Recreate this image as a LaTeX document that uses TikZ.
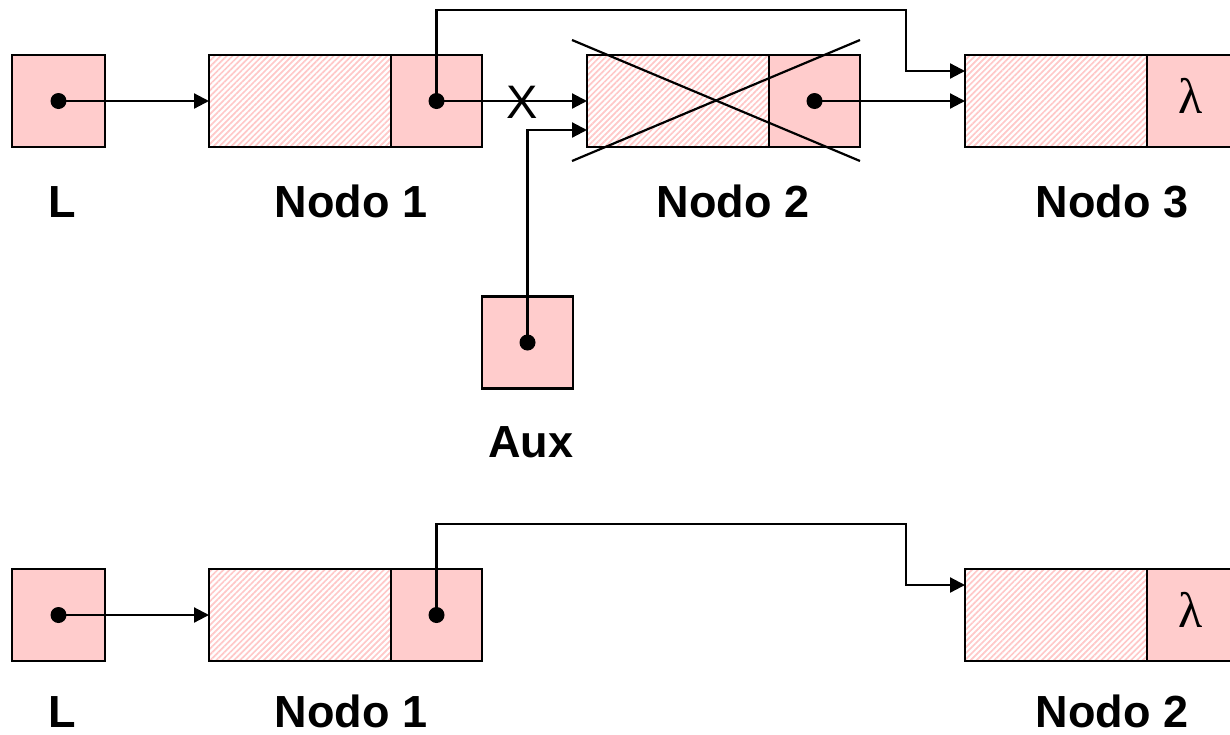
\documentclass[tikz,border=0pt]{standalone}
\usepackage{fontspec}
\setmainfont{Liberation Sans}
\newfontfamily\serifl{Liberation Serif}
\usetikzlibrary{patterns.meta,arrows.meta}
\definecolor{pinkbox}{RGB}{255,204,204}
\definecolor{hatchpink}{RGB}{255,200,200}
\tikzset{
  cell/.style={draw=black, line width=2.2pt, fill=pinkbox, minimum width=91pt, minimum height=92pt, inner sep=0pt, outer sep=0pt},
  sq/.style={cell, minimum width=93pt},
  datacell/.style={draw=black, line width=2.2pt, pattern={Lines[angle=45,distance=4.2pt,line width=1.7pt]}, pattern color=hatchpink, minimum width=182pt, minimum height=92pt, inner sep=0pt, outer sep=0pt},
  ptr/.style={line width=2.2pt, -{Triangle[length=15pt,width=15pt]}},
  lbl/.style={font=\fontsize{45}{54}\selectfont\bfseries, anchor=base, inner sep=0pt},
  lam/.style={font=\fontsize{50}{56}\selectfont\serifl, inner sep=0pt},
  dotc/.style={fill=black}
}
\begin{document}
\begin{tikzpicture}[x=1pt,y=-1pt]
\useasboundingbox (0,0) rectangle (1230,734);
\begin{scope}
\clip (0,0) rectangle (1230,734);
% ---------- top row ----------
\node[sq] (L) at (58.5,101) {};
\node[datacell] (N1a) at (300,101) {};
\node[cell] (N1b) at (436.5,101) {};
\node[datacell] (N2a) at (678,101) {};
\node[cell] (N2b) at (814.5,101) {};
\node[datacell] (N3a) at (1056,101) {};
\node[cell] (N3b) at (1192.5,101) {};
\node[lam] (lam1) at (1191,96) {λ};
\node[cell, minimum width=91pt] (Aux) at (527.5,342.5) {};

% cross over node 2
\coordinate (c1) at (572,40);
\coordinate (c2) at (860,161);
\coordinate (c3) at (572,161);
\coordinate (c4) at (860,40);
\draw[line width=2.2pt] (c1) -- (c2);
\draw[line width=2.2pt] (c3) -- (c4);

% connectors
\coordinate (n2in) at ([yshift=-29pt]N2a.west);
\coordinate (n3in) at ([yshift=30pt]N3a.west);
\coordinate (up1) at (906,10);
\draw[ptr] (L.center) -- (N1a.west);
\draw[ptr] (N1b.center) -- (N2a.west);
\node[font=\fontsize{47}{54}\selectfont, inner sep=0pt] (x) at (522,102) {X};
\draw[ptr] (Aux.center) |- (n2in);
\draw[ptr] (N2b.center) -- (N3a.west);
\draw[ptr] (N1b.center) |- (up1) |- (n3in);
\fill[dotc] (L.center) circle (8pt);
\fill[dotc] (N1b.center) circle (8pt);
\fill[dotc] (N2b.center) circle (8pt);
\fill[dotc] (Aux.center) circle (8pt);

% labels
\node[lbl] (tL) at (62,217) {L};
\node[lbl] (t1) at (351,217) {Nodo 1};
\node[lbl] (t2) at (733,217) {Nodo 2};
\node[lbl] (t3) at (1112,217) {Nodo 3};
\node[lbl] (tA) at (531,457) {Aux};

% ---------- bottom row ----------
\node[sq] (BL) at (58.5,615) {};
\node[datacell] (B1a) at (300,615) {};
\node[cell] (B1b) at (436.5,615) {};
\node[datacell] (B2a) at (1056,615) {};
\node[cell] (B2b) at (1192.5,615) {};
\node[lam] (lam2) at (1191,610) {λ};

\coordinate (b2in) at ([yshift=30pt]B2a.west);
\coordinate (up2) at (906,524);
\draw[ptr] (BL.center) -- (B1a.west);
\draw[ptr] (B1b.center) |- (up2) |- (b2in);
\fill[dotc] (BL.center) circle (8pt);
\fill[dotc] (B1b.center) circle (8pt);

\node[lbl] (bL) at (62,727) {L};
\node[lbl] (b1) at (351,727) {Nodo 1};
\node[lbl] (b2) at (1112,727) {Nodo 2};
\end{scope}
\end{tikzpicture}
\end{document}
